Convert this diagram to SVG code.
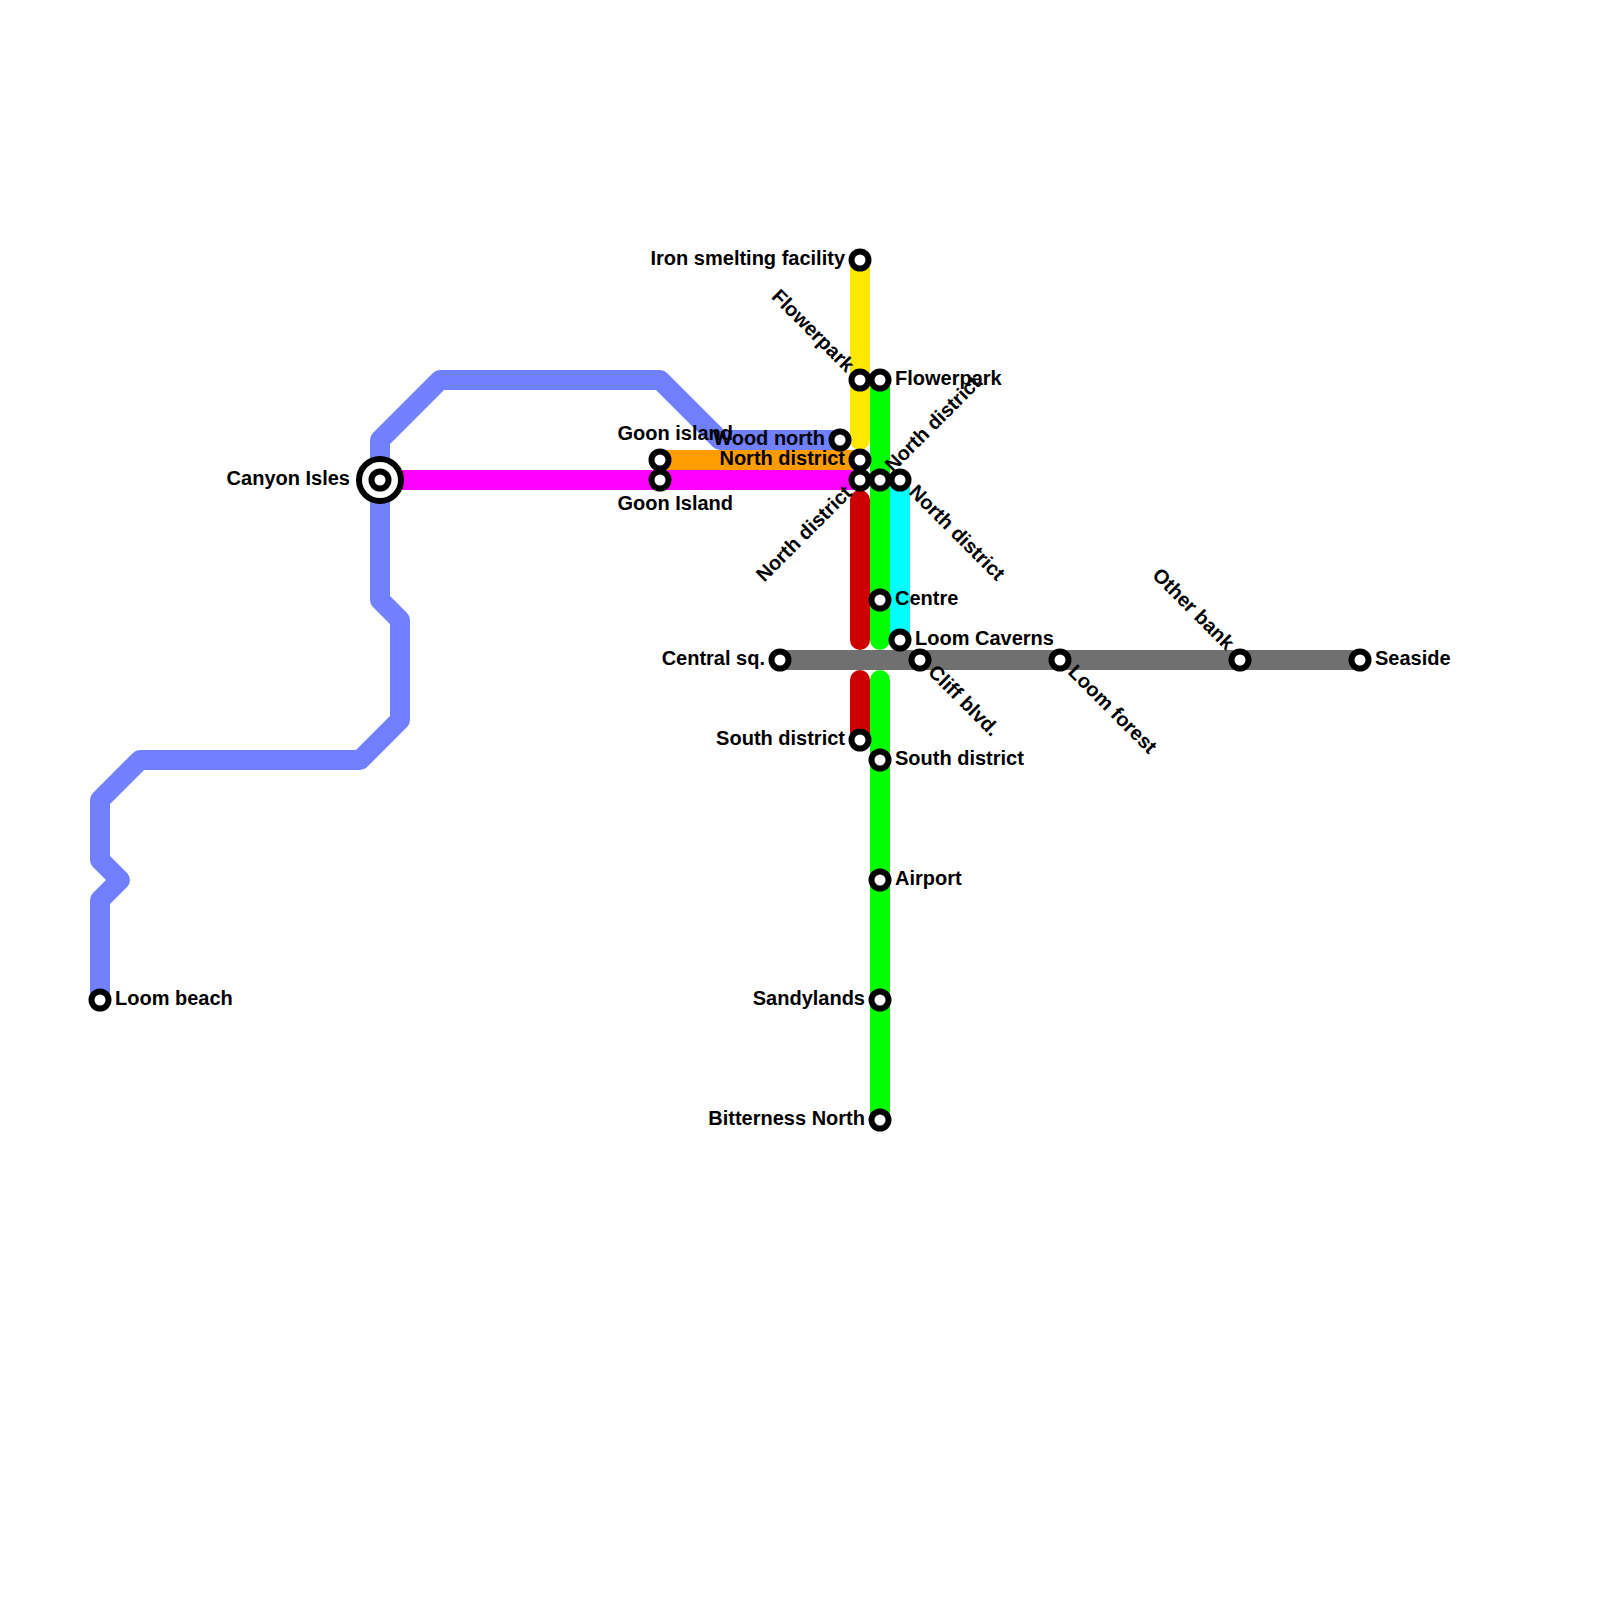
<svg xmlns="http://www.w3.org/2000/svg" width="1600" height="1600" viewBox="0 0 1600 1600">
<style>
.l{fill:none;stroke-width:20;stroke-linecap:round;stroke-linejoin:round}
.s{fill:#fff;stroke:#000;stroke-width:6}
text{font-family:"Liberation Sans",Arial,sans-serif;font-weight:700;font-size:20px;fill:#000}
.e{text-anchor:end}
</style>
<rect width="1600" height="1600" fill="#fff"/>
<g id="connectors">
<path class="l" stroke="#7080ff" d="M100 1000V900L120 880L100 860V800L140 760H360L400 720V620L380 600V440L440 380H660L720 440H840"/>
<path class="l" stroke="#ff9c00" d="M660 460H860"/>
<path class="l" stroke="#ffe800" d="M860 260V440"/>
<path class="l" stroke="#ff00ff" d="M380 480H860"/>
<path class="l" stroke="#cc0000" d="M860 500V640M860 680V740"/>
<path class="l" stroke="#00ffff" d="M900 480V640"/>
<path class="l" stroke="#00ff00" d="M880 380V640M880 680V1120"/>
<path class="l" stroke="#707070" d="M780 660H1360"/>
</g>
<g id="canyon-isles"><circle cx="380" cy="480" r="21" fill="#fff" stroke="#000" stroke-width="6"/><circle class="s" cx="380" cy="480" r="8.5"/><text class="e" x="350" y="485">Canyon Isles</text></g>
<g id="loom-beach"><circle class="s" cx="100" cy="1000" r="8.5"/><text x="115" y="1005">Loom beach</text></g>
<g id="goon-island-a"><circle class="s" cx="660" cy="460" r="8.5"/><text class="e" x="733" y="440">Goon island</text></g>
<g id="goon-island-b"><circle class="s" cx="660" cy="480" r="8.5"/><text class="e" x="733" y="510">Goon Island</text></g>
<g id="iron-smelting"><circle class="s" cx="860" cy="260" r="8.5"/><text class="e" x="845" y="265">Iron smelting facility</text></g>
<g id="flowerpark-a"><circle class="s" cx="860" cy="380" r="8.5"/><text class="e" transform="translate(846 373) rotate(45)">Flowerpark</text></g>
<g id="flowerpark-b"><circle class="s" cx="880" cy="380" r="8.5"/><text x="895" y="385">Flowerpark</text></g>
<g id="wood-north"><circle class="s" cx="840" cy="440" r="8.5"/><text class="e" x="825" y="445">Wood north</text></g>
<g id="north-district-a"><circle class="s" cx="860" cy="460" r="8.5"/><text class="e" x="845" y="465">North district</text></g>
<g id="north-district-b"><circle class="s" cx="860" cy="480" r="8.5"/><text class="e" transform="translate(853 494) rotate(-45)">North district</text></g>
<g id="north-district-c"><circle class="s" cx="880" cy="480" r="8.5"/><text transform="translate(893 473) rotate(-45)">North district</text></g>
<g id="north-district-d"><circle class="s" cx="900" cy="480" r="8.5"/><text transform="translate(908 493) rotate(45)">North district</text></g>
<g id="centre"><circle class="s" cx="880" cy="600" r="8.5"/><text x="895" y="605">Centre</text></g>
<g id="loom-caverns"><circle class="s" cx="900" cy="640" r="8.5"/><text x="915" y="645">Loom Caverns</text></g>
<g id="central-sq"><circle class="s" cx="780" cy="660" r="8.5"/><text class="e" x="765" y="665">Central sq.</text></g>
<g id="cliff-blvd"><circle class="s" cx="920" cy="660" r="8.5"/><text transform="translate(927 673) rotate(45)">Cliff blvd.</text></g>
<g id="loom-forest"><circle class="s" cx="1060" cy="660" r="8.5"/><text transform="translate(1067 673) rotate(45)">Loom forest</text></g>
<g id="other-bank"><circle class="s" cx="1240" cy="660" r="8.5"/><text class="e" transform="translate(1226 651) rotate(45)">Other bank</text></g>
<g id="seaside"><circle class="s" cx="1360" cy="660" r="8.5"/><text x="1375" y="665">Seaside</text></g>
<g id="south-district-a"><circle class="s" cx="860" cy="740" r="8.5"/><text class="e" x="845" y="745">South district</text></g>
<g id="south-district-b"><circle class="s" cx="880" cy="760" r="8.5"/><text x="895" y="765">South district</text></g>
<g id="airport"><circle class="s" cx="880" cy="880" r="8.5"/><text x="895" y="885">Airport</text></g>
<g id="sandylands"><circle class="s" cx="880" cy="1000" r="8.5"/><text class="e" x="865" y="1005">Sandylands</text></g>
<g id="bitterness-north"><circle class="s" cx="880" cy="1120" r="8.5"/><text class="e" x="865" y="1125">Bitterness North</text></g>
</svg>
